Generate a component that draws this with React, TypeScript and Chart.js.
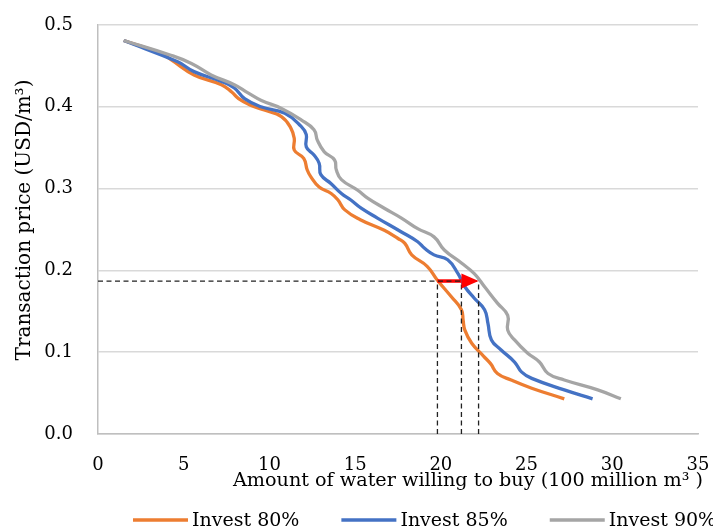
import React, { useEffect, useRef } from "react";
import { Chart, registerables } from "chart.js";

Chart.register(...registerables);

const seriesNames = ["Invest 80%", "Invest 85%", "Invest 90%"];
const seriesColors = ["#ED7D31", "#4472C4", "#A5A5A5"];

const invest80X = [1.5, 3.7, 4.3, 5.6, 7.2, 7.8, 8.2, 8.9, 9.7, 10.7, 11.25, 11.45, 11.45, 12.0, 12.2, 12.4, 12.9, 13.6, 14.0, 14.4, 15.3, 16.7, 17.5, 17.9, 18.3, 19.2, 19.8, 20.6, 21.2, 21.3, 21.4, 21.8, 22.5, 22.9, 23.3, 24.1, 25.3, 27.2];
const invest80Y = [0.481, 0.465, 0.457, 0.439, 0.427, 0.418, 0.41, 0.402, 0.396, 0.388, 0.374, 0.361, 0.347, 0.337, 0.323, 0.315, 0.302, 0.294, 0.286, 0.274, 0.262, 0.249, 0.239, 0.233, 0.219, 0.205, 0.188, 0.168, 0.152, 0.139, 0.127, 0.111, 0.095, 0.086, 0.074, 0.066, 0.056, 0.043];

const invest85X = [1.5, 4.65, 5.6, 7.2, 7.95, 8.55, 9.5, 10.9, 11.85, 12.15, 12.15, 12.6, 12.9, 13.0, 13.6, 14.2, 14.75, 15.35, 16.3, 17.7, 18.65, 19.05, 19.6, 20.4, 21.0, 21.4, 21.95, 22.55, 22.75, 22.95, 23.5, 24.3, 24.7, 25.3, 27.2, 28.85];
const invest85Y = [0.481, 0.455, 0.443, 0.431, 0.423, 0.41, 0.4, 0.392, 0.376, 0.366, 0.351, 0.341, 0.331, 0.317, 0.306, 0.294, 0.286, 0.276, 0.264, 0.247, 0.235, 0.227, 0.219, 0.213, 0.196, 0.18, 0.166, 0.152, 0.135, 0.115, 0.103, 0.088, 0.076, 0.068, 0.054, 0.043];

const invest90X = [1.5, 4.25, 5.45, 6.6, 7.95, 8.75, 9.5, 10.7, 11.85, 12.6, 12.8, 13.2, 13.8, 13.9, 14.2, 15.15, 15.75, 16.7, 17.7, 18.65, 19.6, 20.2, 21.2, 21.95, 22.55, 23.3, 23.9, 23.9, 24.3, 25.05, 25.75, 26.25, 27.2, 29.15, 30.5];
const invest90Y = [0.481, 0.463, 0.453, 0.439, 0.427, 0.417, 0.408, 0.398, 0.384, 0.372, 0.359, 0.345, 0.335, 0.323, 0.311, 0.298, 0.288, 0.276, 0.264, 0.251, 0.241, 0.225, 0.209, 0.196, 0.18, 0.16, 0.145, 0.127, 0.115, 0.099, 0.088, 0.074, 0.066, 0.054, 0.043];

// reference guides
const guidePrice = 0.187;
const guideAmounts = [19.8, 21.2, 22.2];
const arrowShaftX = [19.8, 21.2];
const arrowTipX = 22.2;

const xTickValues = [0, 5, 10, 15, 20, 25, 30, 35];
const yTickValues = [0, 0.1, 0.2, 0.3, 0.4, 0.5];
const xAxisTitle = "Amount of water willing to buy (100 million m³ )";
const yAxisTitle = "Transaction price (USD/m³)";

const FONT = '"DejaVu Serif", "Liberation Serif", serif';

const toPoints = (xs: number[], ys: number[]) => xs.map((x, i) => ({ x, y: ys[i] }));

const decorPlugin = {
  id: "decor",
  afterDatasetsDraw(chart: any) {
    const ctx = chart.ctx;
    const xs = chart.scales.x;
    const ys = chart.scales.y;
    const baseX = xs.getPixelForValue(arrowShaftX[1]);
    const tipX = xs.getPixelForValue(arrowTipX);
    const yPix = ys.getPixelForValue(guidePrice);
    ctx.save();
    ctx.fillStyle = "#FF0000";
    ctx.beginPath();
    ctx.moveTo(baseX, yPix - 7.5);
    ctx.lineTo(tipX, yPix);
    ctx.lineTo(baseX, yPix + 7.5);
    ctx.closePath();
    ctx.fill();
    ctx.restore();
  },
  afterDraw(chart: any) {
    const ctx = chart.ctx;
    ctx.save();
    ctx.fillStyle = "#000";
    ctx.textBaseline = "middle";
    ctx.textAlign = "center";
    ctx.font = `19.2px ${FONT}`;
    ctx.fillText(xAxisTitle, 468, 481);
    ctx.save();
    ctx.font = `20px ${FONT}`;
    ctx.translate(25, 220);
    ctx.rotate(-Math.PI / 2);
    ctx.fillText(yAxisTitle, 0, 0);
    ctx.restore();
    // legend
    ctx.font = `19px ${FONT}`;
    let x = 133;
    const y = 520;
    ctx.textAlign = "left";
    seriesNames.forEach((name, i) => {
      ctx.strokeStyle = seriesColors[i];
      ctx.lineWidth = 3.5;
      ctx.beginPath();
      ctx.moveTo(x, y);
      ctx.lineTo(x + 55, y);
      ctx.stroke();
      ctx.fillText(name, x + 59, y + 1);
      x += 59 + ctx.measureText(name).width + 42;
    });
    ctx.restore();
  },
};

export default function App() {
  const ref = useRef<HTMLCanvasElement>(null);
  useEffect(() => {
    if (!ref.current) return;
    const seriesX = [invest80X, invest85X, invest90X];
    const seriesY = [invest80Y, invest85Y, invest90Y];
    const datasets: any[] = seriesNames.map((name, i) => ({
      label: name,
      data: toPoints(seriesX[i], seriesY[i]),
      borderColor: seriesColors[i],
      borderWidth: 3.3,
      pointRadius: 0,
      tension: 0.45,
      fill: false,
      order: 3 - i,
    }));
    const dash = {
      borderColor: "#222",
      borderWidth: 1.3,
      borderDash: [5, 3.5],
      pointRadius: 0,
      tension: 0,
      fill: false,
      order: 0,
    };
    datasets.push({
      label: "guide-h",
      data: [
        { x: 0, y: guidePrice },
        { x: arrowTipX, y: guidePrice },
      ],
      ...dash,
    });
    guideAmounts.forEach((a, k) => {
      datasets.push({
        label: "guide-v" + k,
        data: [
          { x: a, y: 0 },
          { x: a, y: guidePrice },
        ],
        ...dash,
      });
    });
    datasets.push({
      label: "arrow",
      data: arrowShaftX.map((x) => ({ x, y: guidePrice })),
      borderColor: "#FF0000",
      borderWidth: 3.5,
      pointRadius: 0,
      tension: 0,
      fill: false,
      order: 0,
    });

    const chart = new Chart(ref.current, {
      type: "line",
      data: { datasets },
      plugins: [decorPlugin],
      options: {
        animation: false,
        responsive: false,
        layout: { padding: { left: 0, right: 15, top: 25, bottom: 0 } },
        plugins: { legend: { display: false }, tooltip: { enabled: false } },
        scales: {
          x: {
            type: "linear",
            min: xTickValues[0],
            max: xTickValues[xTickValues.length - 1],
            afterFit: (s: any) => {
              s.height = 96;
              s.paddingLeft = 0;
              s.paddingRight = 0;
              s.paddingTop = 0;
              s.paddingBottom = 0;
            },
            afterBuildTicks: (s: any) => {
              s.ticks = xTickValues.map((v) => ({ value: v }));
            },
            ticks: {
              padding: 21,
              color: "#000",
              font: { family: FONT, size: 18 },
              maxRotation: 0,
            },
            grid: { display: false, drawTicks: false },
            border: { display: true, color: "#BFBFBF", width: 1.5 },
          },
          y: {
            type: "linear",
            min: yTickValues[0],
            max: yTickValues[yTickValues.length - 1],
            afterFit: (s: any) => {
              s.width = 98;
              s.paddingLeft = 0;
              s.paddingRight = 0;
              s.paddingTop = 0;
              s.paddingBottom = 0;
            },
            afterBuildTicks: (s: any) => {
              s.ticks = yTickValues.map((v) => ({ value: v }));
            },
            ticks: {
              padding: 25,
              color: "#000",
              font: { family: FONT, size: 18 },
              callback: (v: any) => Number(v).toFixed(1),
            },
            grid: { color: "#D9D9D9", lineWidth: 1.5, drawTicks: false },
            border: { display: true, color: "#BFBFBF", width: 1.5 },
          },
        },
      },
    });
    return () => chart.destroy();
  }, []);
  return (
    <div style={{ position: "absolute", left: 0, top: 0, width: 713, height: 530, background: "#fff" }}>
      <canvas ref={ref} width={713} height={530} style={{ display: "block", width: 713, height: 530 }} />
    </div>
  );
}
